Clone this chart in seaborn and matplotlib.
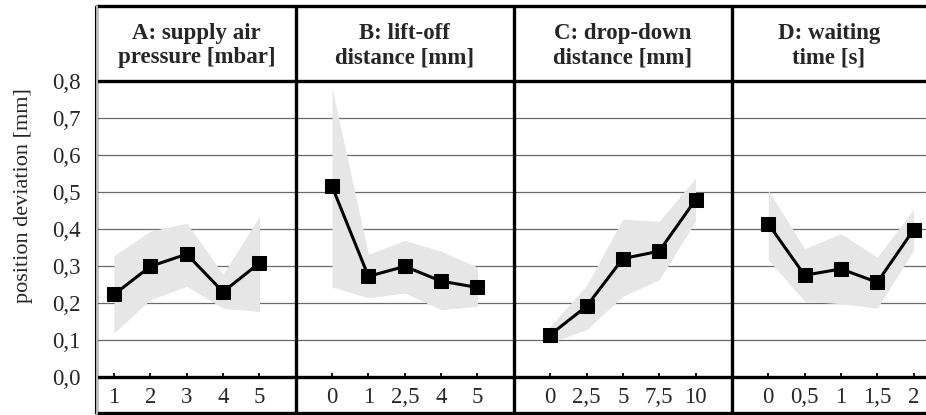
import numpy as np
import pandas as pd
import seaborn as sns
import matplotlib.pyplot as plt
from matplotlib.lines import Line2D

# factor headers and levels
headers = ['A: supply air\npressure [mbar]', 'B: lift-off\ndistance [mm]',
           'C: drop-down\ndistance [mm]', 'D: waiting\ntime [s]']
levels_a = ['1', '2', '3', '4', '5']
levels_b = ['0', '1', '2,5', '4', '5']
levels_c = ['0', '2,5', '5', '7,5', '10']
levels_d = ['0', '0,5', '1', '1,5', '2']

# mean position deviation [mm] per level
mean_a = [0.223, 0.299, 0.332, 0.230, 0.308]
mean_b = [0.515, 0.272, 0.299, 0.259, 0.242]
mean_c = [0.114, 0.191, 0.320, 0.340, 0.479]
mean_d = [0.414, 0.275, 0.292, 0.256, 0.398]

# spread band (lower / upper)
low_a = [0.119, 0.209, 0.245, 0.186, 0.177]
up_a = [0.328, 0.394, 0.416, 0.278, 0.434]
low_b = [0.243, 0.214, 0.227, 0.182, 0.191]
up_b = [0.781, 0.332, 0.369, 0.340, 0.297]
low_c = [0.092, 0.128, 0.218, 0.263, 0.421]
up_c = [0.137, 0.247, 0.427, 0.421, 0.538]
low_d = [0.317, 0.205, 0.198, 0.186, 0.342]
up_d = [0.505, 0.347, 0.387, 0.324, 0.454]

levels = [levels_a, levels_b, levels_c, levels_d]
means = [mean_a, mean_b, mean_c, mean_d]
lows = [low_a, low_b, low_c, low_d]
ups = [up_a, up_b, up_c, up_d]

# one long table, each factor gets 5 slots plus an empty divider slot
rows = []
for i in range(4):
    for j in range(5):
        rows.append({'factor': headers[i], 'pos': i * 6 + j, 'level': levels[i][j],
                     'mean': means[i][j], 'low': lows[i][j], 'up': ups[i][j]})
df = pd.DataFrame(rows)

sns.set_theme(style='white')
plt.rcParams['font.family'] = ['Liberation Serif', 'DejaVu Serif']

W, H = 926, 415
fig = plt.figure(figsize=(W / 100, H / 100), dpi=100)
# axes box runs from the top frame (y=6) to the bottom frame (y=413)
ax = fig.add_axes([97 / W, (H - 413) / H, (W - 97) / W, (413 - 6) / H])

xmin, xmax = -0.468, 22.34
ymin, ymax = -0.0973, 1.0027
ax.set_xlim(xmin, xmax)
ax.set_ylim(ymin, ymax)

for name, sub in df.groupby('factor', sort=False):
    ax.fill_between(sub['pos'], sub['low'], sub['up'], color='#e6e6e6', lw=0, zorder=1)
    sns.lineplot(data=sub, x='pos', y='mean', ax=ax, color='black', lw=2.2,
                 marker='s', markersize=9.5, markeredgecolor='black',
                 estimator=None, sort=False, legend=False, zorder=4)

# horizontal grid
yt = np.round(np.arange(0, 0.81, 0.1), 1)
ax.set_yticks(yt)
ax.set_yticklabels([f'{v:.1f}'.replace('.', ',') for v in yt], fontsize=16.5)
ax.tick_params(axis='y', length=0, pad=12)
ax.grid(axis='y', color='#6a6a6a', lw=0.9, zorder=2)
ax.axhline(0, color='black', lw=2.4, zorder=5)
ax.axhline(0.8, color='black', lw=2.4, zorder=5)

# categories on x: small inward ticks and labels in the bottom row
ax.set_xticks([])
ax.vlines(df['pos'], 0, 0.012, color='black', lw=1.3, zorder=5)
for _, r in df.iterrows():
    ax.text(r['pos'], -0.055, r['level'], ha='center', va='center', fontsize=16.5)

# panel dividers and headers
bounds = [xmin, 5, 11, 17, xmax]
for b in bounds[1:-1]:
    ax.axvline(b, color='black', lw=2.4, zorder=5)
for i, h in enumerate(headers):
    ax.text((bounds[i] + bounds[i + 1]) / 2, 0.895, h, ha='center', va='center',
            fontsize=16.5, fontweight='bold', linespacing=1.2)

ax.set_xlabel('')
ax.set_ylabel('')
ax.text(-0.089, 0.49, 'position deviation [mm]', rotation=90, ha='center', va='center',
        fontsize=16, transform=ax.get_yaxis_transform())

for s in ['top', 'bottom']:
    ax.spines[s].set_linewidth(2.4)
    ax.spines[s].set_color('black')
ax.spines['right'].set_visible(False)
ax.spines['left'].set_linewidth(1)
ax.spines['left'].set_color('black')
# double left frame line
fig.add_artist(Line2D([95.5 / W] * 2, [(H - 413) / H, (H - 6) / H], color='#bbbbbb', lw=2.2))
fig.add_artist(Line2D([94.5 / W] * 2, [(H - 413) / H, (H - 6) / H], color='black', lw=0.8))

fig.savefig('out.png', dpi=100)
